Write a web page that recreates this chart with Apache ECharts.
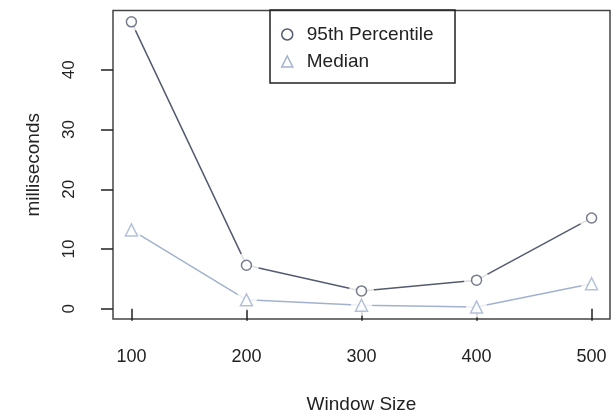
<!DOCTYPE html>
<html>
<head>
<meta charset="utf-8">
<script src="https://cdn.jsdelivr.net/npm/echarts@6/dist/echarts.min.js"></script>
<style>html,body{margin:0;padding:0;background:#fff}#c{width:613px;height:415px}</style>
</head>
<body>
<div id="c"></div>
<script>
const windowSizes = [100, 200, 300, 400, 500];
const p95 = [48.0, 7.3, 3.0, 4.8, 15.2];
const median = [13.2, 1.5, 0.6, 0.3, 4.2];
const xTicks = [100, 200, 300, 400, 500];
const yTicks = [0, 10, 20, 30, 40];

const darkC = '#545b70';
const lightC = '#a2b2ce';
const ink = '#222';
const FONT = '"Liberation Sans", Arial, Helvetica, sans-serif';

const pts = arr => windowSizes.map((x, i) => [x, arr[i]]);
// white "gap" discs emulate R's type="b" line breaks around points
const gapSize95 = v => (v[1] > 45 ? 19 : 25);
const gapSizeMed = 21;

const chart = echarts.init(document.getElementById('c'), null, {renderer: 'canvas'});
chart.setOption({
  animation: false,
  backgroundColor: '#fff',
  textStyle: {fontFamily: FONT},
  grid: {left: 113, top: 10.5, width: 497, bottom: 96, outerBoundsMode: 'none', containLabel: false, show: true, borderColor: '#444', borderWidth: 1.5, backgroundColor: 'transparent'},
  xAxis: {
    type: 'value', min: 84, max: 516,
    axisLine: {show: false},
    splitLine: {show: false},
    axisTick: {show: true, customValues: xTicks, length: 12, lineStyle: {color: ink, width: 1.5}},
    axisLabel: {customValues: xTicks, margin: 29, color: ink, fontSize: 18, fontFamily: FONT},
    name: 'Window Size', nameLocation: 'middle', nameGap: 76,
    nameTextStyle: {color: ink, fontSize: 19, fontFamily: FONT}
  },
  yAxis: {
    type: 'value', min: -1.7, max: 49.9,
    axisLine: {show: false},
    splitLine: {show: false},
    axisTick: {show: true, customValues: yTicks, length: 12, lineStyle: {color: ink, width: 1.5}},
    axisLabel: {customValues: yTicks, rotate: 90, margin: 35, color: ink, fontSize: 17, fontFamily: FONT},
    name: 'milliseconds', nameLocation: 'middle', nameGap: 70, nameRotate: 90,
    nameTextStyle: {color: ink, fontSize: 19, fontFamily: FONT}
  },
  legend: {
    orient: 'vertical', left: 276, top: 20, zlevel: 2,
    itemWidth: 11, itemHeight: 11, itemGap: 8,
    textStyle: {fontSize: 19, lineHeight: 19, color: ink, fontFamily: FONT, padding: [0, 0, 0, 9]},
    data: [
      {name: '95th Percentile', icon: 'circle', itemStyle: {color: '#fff', borderColor: darkC, borderWidth: 1.5}},
      {name: 'Median', icon: 'triangle', itemStyle: {color: '#fff', borderColor: lightC, borderWidth: 1.5}}
    ]
  },
  graphic: [{type: 'rect', zlevel: 2, shape: {x: 270, y: 10, width: 185, height: 73}, style: {fill: 'transparent', stroke: ink, lineWidth: 1.5}, z: 100}],
  series: [
    {name: '95th Percentile', type: 'line', data: pts(p95), symbol: 'none', lineStyle: {color: darkC, width: 1.5}, itemStyle: {color: darkC}, z: 2},
    {name: 'Median', type: 'line', data: pts(median), symbol: 'none', lineStyle: {color: lightC, width: 1.5}, itemStyle: {color: lightC}, z: 2},
    {name: 'gap95', type: 'scatter', data: pts(p95), symbol: 'circle', symbolSize: gapSize95, itemStyle: {color: '#fff'}, silent: true, zlevel: 1},
    {name: 'gapMed', type: 'scatter', data: pts(median), symbol: 'circle', symbolSize: gapSizeMed, itemStyle: {color: '#fff'}, silent: true, zlevel: 1},
    {name: '95th Percentile', type: 'scatter', data: pts(p95), symbol: 'circle', symbolSize: 10, itemStyle: {color: '#fff', borderColor: darkC, borderWidth: 1.5}, zlevel: 2},
    {name: 'Median', type: 'scatter', data: pts(median), symbol: 'triangle', symbolSize: 12, itemStyle: {color: '#fff', borderColor: lightC, borderWidth: 1.5}, zlevel: 2}
  ]
});
</script>
</body>
</html>
